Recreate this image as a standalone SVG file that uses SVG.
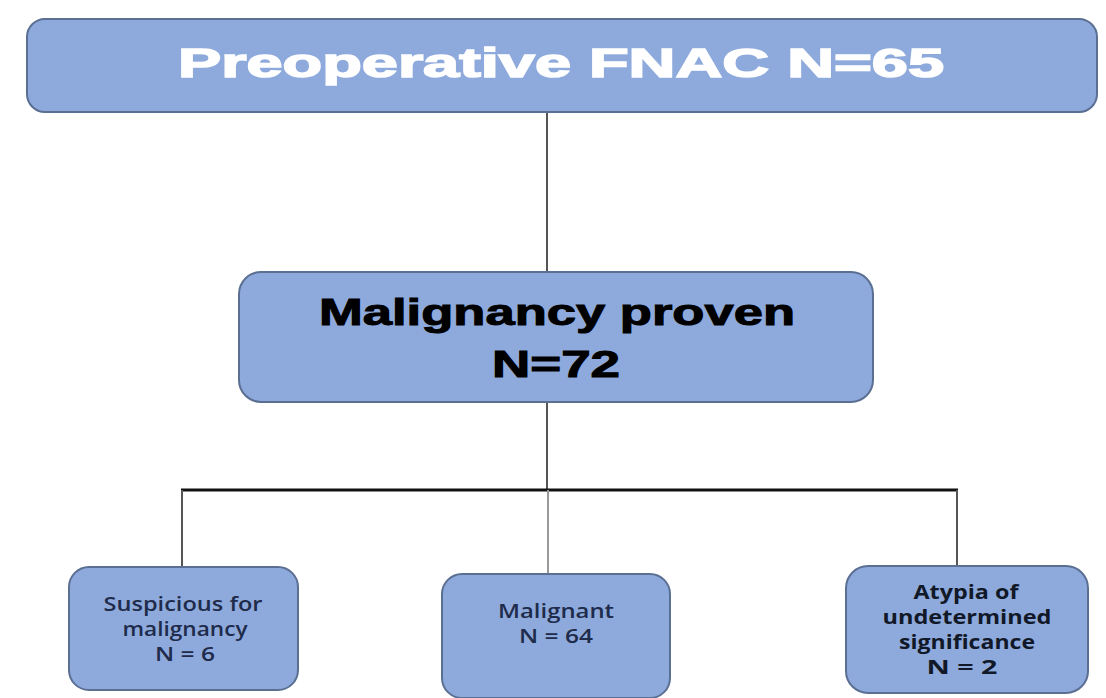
<svg xmlns="http://www.w3.org/2000/svg" width="1106" height="698" viewBox="0 0 1106 698">
<style>
.box{fill:#8eaadc;stroke:#5b6f93;stroke-width:2}
.t{font-family:"Liberation Sans",Arial,sans-serif;font-weight:bold;text-anchor:middle}
.s{font-family:"Open Sans","Liberation Sans",sans-serif;font-size:19px;font-weight:600;fill:#1e2b4a;text-anchor:middle}
.b{font-family:"Open Sans","Liberation Sans",sans-serif;font-size:19px;font-weight:bold;fill:#111827;text-anchor:middle}
.c{stroke:#555;stroke-width:2;fill:none}
</style>
<rect width="1106" height="698" fill="#fff"/>
<g id="connectors">
<line class="c" x1="547" y1="112" x2="547" y2="272"/>
<line class="c" x1="547" y1="402" x2="547" y2="490"/>
<line x1="181" y1="490" x2="958" y2="490" stroke="#111" stroke-width="3"/>
<line class="c" x1="182" y1="490" x2="182" y2="568"/>
<line x1="548" y1="490" x2="548" y2="575" stroke="#999" stroke-width="2"/>
<line class="c" x1="957" y1="490" x2="957" y2="566" stroke="#333"/>
</g>
<g id="top">
<rect class="box" x="27" y="19" width="1070" height="93" rx="18"/>
<text class="t" x="561" y="77" font-size="40" fill="#fff" stroke="#fff" stroke-width="1.5" textLength="766" lengthAdjust="spacingAndGlyphs">Preoperative FNAC N=65</text>
</g>
<g id="middle">
<rect class="box" x="239" y="272" width="634" height="130" rx="22"/>
<text class="t" x="557" y="325" font-size="37" fill="#000" stroke="#000" stroke-width="1" textLength="476" lengthAdjust="spacingAndGlyphs">Malignancy proven</text>
<text class="t" x="556" y="377" font-size="37" fill="#000" stroke="#000" stroke-width="1" textLength="128" lengthAdjust="spacingAndGlyphs">N=72</text>
</g>
<g id="suspicious">
<rect class="box" x="69" y="567" width="229" height="123" rx="20"/>
<text class="s" x="183" y="611" textLength="159" lengthAdjust="spacingAndGlyphs">Suspicious for</text>
<text class="s" x="185" y="636" textLength="125" lengthAdjust="spacingAndGlyphs">malignancy</text>
<text class="s" x="185" y="661" textLength="60" lengthAdjust="spacingAndGlyphs">N = 6</text>
</g>
<g id="malignant">
<rect class="box" x="442" y="574" width="228" height="124" rx="20"/>
<text class="s" x="556" y="618" textLength="116" lengthAdjust="spacingAndGlyphs">Malignant</text>
<text class="s" x="556" y="643" textLength="74" lengthAdjust="spacingAndGlyphs">N = 64</text>
</g>
<g id="atypia">
<rect class="box" x="846" y="566" width="242" height="127" rx="22"/>
<text class="b" x="966" y="599" textLength="105" lengthAdjust="spacingAndGlyphs">Atypia of</text>
<text class="b" x="967" y="624" textLength="169" lengthAdjust="spacingAndGlyphs">undetermined</text>
<text class="b" x="967" y="649" textLength="136" lengthAdjust="spacingAndGlyphs">significance</text>
<text class="b" x="962" y="674" textLength="71" lengthAdjust="spacingAndGlyphs">N = 2</text>
</g>
</svg>
